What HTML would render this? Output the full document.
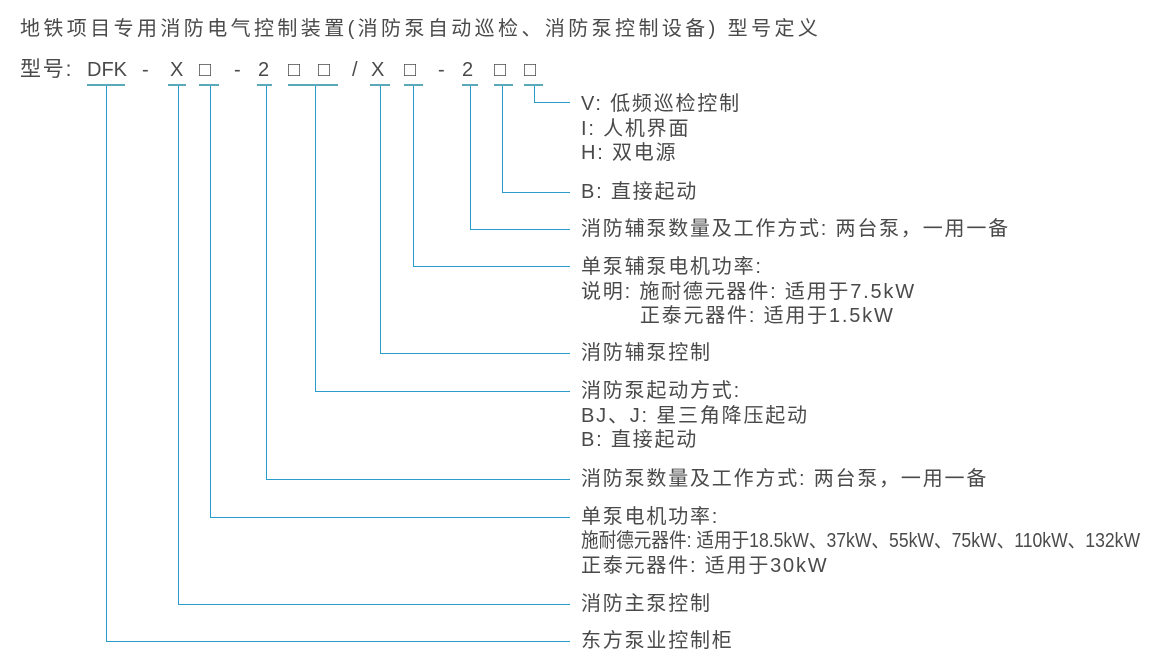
<!DOCTYPE html>
<html><head><meta charset="utf-8"><style>
body{margin:0;width:1154px;height:665px;background:#fff;position:relative;overflow:hidden;font-family:"Liberation Sans","Noto Sans CJK SC",sans-serif;color:#4a4a4a}
.t{position:absolute;font-size:20px;line-height:24.5px;white-space:pre;letter-spacing:1.8px}
.h{position:absolute;background:#2b9bc9;height:1px}
.v{position:absolute;background:#2b9bc9;width:1px}
.u{position:absolute;background:#5aa9b8;height:2px;top:84px}
.r{letter-spacing:0}
</style></head><body>
<div class="t" style="left:20px;top:17px;letter-spacing:3.4px">地铁项目专用消防电气控制装置(消防泵自动巡检、消防泵控制设备) 型号定义</div>
<div class="t" style="left:20px;top:58px;font-size:21px">型号:</div>
<div class="t r" style="left:87px;top:58px">DFK</div>
<div class="t r" style="left:142px;top:58px">-</div>
<div class="t r" style="left:170px;top:58px">X</div>
<div class="t r" style="left:199px;top:58px">□</div>
<div class="t r" style="left:234px;top:58px">-</div>
<div class="t r" style="left:258px;top:58px">2</div>
<div class="t r" style="left:288px;top:58px">□</div>
<div class="t r" style="left:318px;top:58px">□</div>
<div class="t r" style="left:352px;top:58px">/</div>
<div class="t r" style="left:371px;top:58px">X</div>
<div class="t r" style="left:404px;top:58px">□</div>
<div class="t r" style="left:438px;top:58px">-</div>
<div class="t r" style="left:462px;top:58px">2</div>
<div class="t r" style="left:494px;top:58px">□</div>
<div class="t r" style="left:524px;top:58px">□</div>

<div class="u" style="left:87px;width:38px"></div>
<div class="u" style="left:168px;width:18px"></div>
<div class="u" style="left:199px;width:20px"></div>
<div class="u" style="left:257px;width:15px"></div>
<div class="u" style="left:288px;width:50px"></div>
<div class="u" style="left:370px;width:20px"></div>
<div class="u" style="left:404px;width:19px"></div>
<div class="u" style="left:462px;width:16px"></div>
<div class="u" style="left:494px;width:19px"></div>
<div class="u" style="left:524px;width:19px"></div>

<div class="v" style="left:106px;top:86px;height:556px"></div><div class="h" style="left:106px;top:641px;width:464px"></div>
<div class="v" style="left:178px;top:86px;height:519px"></div><div class="h" style="left:178px;top:604px;width:392px"></div>
<div class="v" style="left:210px;top:86px;height:432px"></div><div class="h" style="left:210px;top:517px;width:360px"></div>
<div class="v" style="left:266px;top:86px;height:394px"></div><div class="h" style="left:266px;top:479px;width:304px"></div>
<div class="v" style="left:315px;top:86px;height:306px"></div><div class="h" style="left:315px;top:391px;width:255px"></div>
<div class="v" style="left:380px;top:86px;height:268px"></div><div class="h" style="left:380px;top:353px;width:190px"></div>
<div class="v" style="left:413px;top:86px;height:181px"></div><div class="h" style="left:413px;top:266px;width:157px"></div>
<div class="v" style="left:470px;top:86px;height:144px"></div><div class="h" style="left:470px;top:229px;width:100px"></div>
<div class="v" style="left:502px;top:86px;height:107px"></div><div class="h" style="left:502px;top:192px;width:68px"></div>
<div class="v" style="left:534px;top:86px;height:17px"></div><div class="h" style="left:534px;top:102px;width:36px"></div>

<div class="t" style="left:581px;top:92px">V: 低频巡检控制
I: 人机界面
H: 双电源</div>
<div class="t" style="left:581px;top:180px">B: 直接起动</div>
<div class="t" style="left:581px;top:217px">消防辅泵数量及工作方式: 两台泵，一用一备</div>
<div class="t" style="left:581px;top:255px">单泵辅泵电机功率:
说明: 施耐德元器件: 适用于7.5kW
        正泰元器件: 适用于1.5kW</div>
<div class="t" style="left:581px;top:341px">消防辅泵控制</div>
<div class="t" style="left:581px;top:379px">消防泵起动方式:
BJ、J: 星三角降压起动
B: 直接起动</div>
<div class="t" style="left:581px;top:467px">消防泵数量及工作方式: 两台泵，一用一备</div>
<div class="t" style="left:581px;top:505px">单泵电机功率:</div>
<div class="t" style="left:581px;top:529px;letter-spacing:0;transform:scaleX(0.88);transform-origin:0 0">施耐德元器件: 适用于18.5kW、37kW、55kW、75kW、110kW、132kW</div>
<div class="t" style="left:581px;top:554px">正泰元器件: 适用于30kW</div>
<div class="t" style="left:581px;top:592px">消防主泵控制</div>
<div class="t" style="left:581px;top:629px">东方泵业控制柜</div>
</body></html>
